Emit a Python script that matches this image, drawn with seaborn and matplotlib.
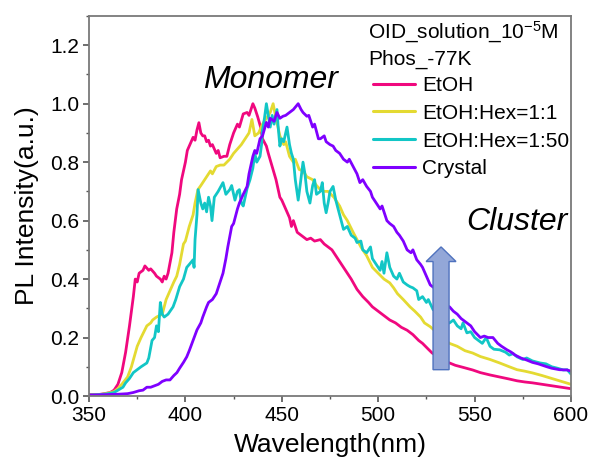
import numpy as np
import pandas as pd
import matplotlib
matplotlib.use("Agg")
import matplotlib.pyplot as plt
from matplotlib.patches import FancyArrow
from matplotlib.ticker import MultipleLocator
import seaborn as sns

# ---------------- data ----------------
etoh_wl = [350, 355, 358, 361, 363, 365, 367, 369, 371, 373, 374, 375, 376, 378, 379, 381, 382, 384, 385, 387, 388, 389, 390, 391, 393, 394, 395.5, 397, 398, 400, 401, 403, 404, 405, 406, 407, 408, 409, 410, 411, 412, 413, 414, 416, 417, 418, 420, 421.5, 423, 425, 427, 428, 430, 432, 433, 435, 436, 437.5, 439, 440, 442, 443, 445, 447, 449, 450, 452, 454, 455, 456, 458, 460, 462, 463, 465, 467, 470, 472, 474, 476, 478, 480, 482, 484, 486, 489, 492, 495, 497, 500, 503, 506, 509, 512, 515, 518, 521, 523, 526, 528, 531, 534, 537, 540, 544, 549, 553, 558, 563, 568, 572, 576, 580, 585, 590, 595, 600]
etoh_y = [0.005, 0.005, 0.008, 0.012, 0.02, 0.04, 0.08, 0.15, 0.24, 0.34, 0.40, 0.39, 0.42, 0.43, 0.445, 0.43, 0.435, 0.42, 0.41, 0.40, 0.39, 0.41, 0.40, 0.42, 0.49, 0.56, 0.64, 0.69, 0.74, 0.80, 0.84, 0.87, 0.885, 0.875, 0.91, 0.935, 0.90, 0.89, 0.89, 0.87, 0.875, 0.855, 0.86, 0.83, 0.84, 0.815, 0.82, 0.82, 0.86, 0.90, 0.93, 0.92, 0.965, 0.97, 0.96, 1.0, 0.985, 0.955, 0.92, 0.88, 0.855, 0.83, 0.785, 0.74, 0.68, 0.67, 0.64, 0.61, 0.58, 0.60, 0.56, 0.55, 0.54, 0.535, 0.54, 0.53, 0.535, 0.52, 0.51, 0.50, 0.48, 0.46, 0.44, 0.42, 0.40, 0.365, 0.34, 0.32, 0.305, 0.29, 0.275, 0.26, 0.25, 0.235, 0.225, 0.21, 0.19, 0.18, 0.16, 0.147, 0.135, 0.12, 0.113, 0.105, 0.098, 0.089, 0.08, 0.072, 0.065, 0.058, 0.052, 0.048, 0.045, 0.04, 0.035, 0.03, 0.025]

hex11_wl = [350, 356, 360, 363, 365, 367, 370, 372, 375, 377, 380, 382, 383, 385, 388, 390, 392, 394, 395.5, 397, 399, 400, 402, 404, 405, 406.5, 408, 410, 411, 413, 414, 416, 418, 420, 421.5, 423, 425, 427, 429, 431, 433, 434.5, 436, 438, 440, 442, 444, 445.5, 447, 449, 451, 452, 454, 456, 457, 459, 461, 463, 466, 468, 470, 472, 474, 477, 480, 482, 484, 487, 489, 491, 494, 497, 500, 503, 506, 508, 510, 513, 516.5, 519, 522, 524, 527, 530, 533, 537, 541, 545, 549, 553, 558, 563, 568, 572, 576, 580, 585, 590, 595, 600]
hex11_y = [0.003, 0.005, 0.01, 0.015, 0.025, 0.04, 0.065, 0.10, 0.17, 0.20, 0.24, 0.25, 0.26, 0.27, 0.28, 0.33, 0.36, 0.39, 0.41, 0.45, 0.52, 0.53, 0.58, 0.62, 0.66, 0.706, 0.72, 0.74, 0.75, 0.77, 0.76, 0.785, 0.79, 0.79, 0.80, 0.81, 0.83, 0.845, 0.86, 0.88, 0.90, 0.946, 0.89, 0.90, 0.93, 0.95, 0.97, 1.0, 0.95, 0.89, 0.86, 0.87, 0.82, 0.80, 0.81, 0.775, 0.77, 0.75, 0.74, 0.72, 0.706, 0.70, 0.70, 0.68, 0.65, 0.62, 0.60, 0.56, 0.535, 0.51, 0.48, 0.44, 0.42, 0.40, 0.387, 0.37, 0.35, 0.33, 0.305, 0.29, 0.27, 0.25, 0.237, 0.22, 0.20, 0.18, 0.17, 0.155, 0.147, 0.135, 0.125, 0.113, 0.10, 0.09, 0.085, 0.079, 0.07, 0.06, 0.05, 0.04]

hex150_wl = [350, 356, 360, 363, 365, 367.6, 369, 371, 373, 375, 377, 380, 381, 382.7, 384, 385, 386, 387, 388, 389, 391, 393.6, 395, 397, 399, 400.7, 402, 404, 404.5, 405, 406, 406.6, 408, 409, 410, 411, 412, 413, 413.8, 415, 417, 419.5, 421, 423, 424, 425.7, 427, 428, 429, 430, 431, 432, 433.5, 435, 436, 437, 438.7, 439.5, 440, 441, 442, 443, 444, 445, 446, 447.5, 448, 449, 450, 451, 452.7, 454, 455, 456, 457, 458.5, 459.5, 461, 462, 463, 464.6, 466, 467, 468, 470, 471, 472, 473, 474, 475, 476.6, 478, 480, 482, 484, 486, 488, 489, 491, 492, 494, 496, 497, 499, 501, 502, 503, 504.5, 506, 508, 509.7, 511, 513, 515, 516.5, 518, 520, 521, 523, 525, 526, 528.5, 530, 532, 534, 535, 537, 539, 541, 543, 544, 546, 548, 550, 552, 554, 556, 558, 560, 563, 566, 568, 570, 572, 575, 577, 580, 584, 587, 590, 593, 596, 598, 600]
hex150_y = [0.003, 0.005, 0.008, 0.012, 0.02, 0.03, 0.045, 0.06, 0.08, 0.09, 0.10, 0.113, 0.13, 0.19, 0.20, 0.24, 0.22, 0.32, 0.28, 0.27, 0.28, 0.305, 0.33, 0.374, 0.40, 0.44, 0.45, 0.466, 0.44, 0.535, 0.62, 0.706, 0.66, 0.64, 0.66, 0.63, 0.68, 0.65, 0.60, 0.68, 0.70, 0.73, 0.69, 0.706, 0.72, 0.67, 0.70, 0.706, 0.66, 0.65, 0.68, 0.71, 0.74, 0.78, 0.83, 0.80, 0.82, 0.86, 0.91, 0.95, 1.0, 0.96, 0.92, 0.96, 0.93, 0.98, 0.93, 0.855, 0.88, 0.87, 0.92, 0.86, 0.83, 0.81, 0.74, 0.67, 0.72, 0.80, 0.76, 0.70, 0.66, 0.72, 0.74, 0.69, 0.70, 0.73, 0.66, 0.627, 0.66, 0.70, 0.717, 0.67, 0.62, 0.57, 0.58, 0.55, 0.54, 0.525, 0.53, 0.50, 0.49, 0.51, 0.47, 0.45, 0.43, 0.46, 0.42, 0.49, 0.44, 0.41, 0.40, 0.42, 0.39, 0.38, 0.374, 0.37, 0.36, 0.33, 0.34, 0.32, 0.33, 0.295, 0.30, 0.27, 0.28, 0.25, 0.25, 0.26, 0.24, 0.23, 0.25, 0.216, 0.22, 0.20, 0.19, 0.18, 0.20, 0.17, 0.16, 0.158, 0.15, 0.14, 0.145, 0.134, 0.125, 0.13, 0.12, 0.113, 0.11, 0.10, 0.095, 0.089, 0.09, 0.075]

crystal_wl = [350, 355, 360, 365, 370, 373, 376, 378, 380, 382, 384, 386, 388, 390, 392, 394, 395.6, 397, 399, 400.7, 402, 404, 406, 408, 409, 411, 412, 414, 416, 417, 418, 419.5, 421, 422, 424, 425, 427, 428, 430, 432, 433, 435, 436, 437, 438.7, 440, 442, 443, 444, 446, 447.5, 449, 450.6, 452, 454, 456, 458.5, 460, 461, 463, 464, 466, 467, 469, 470, 472, 473, 475, 476.6, 478, 480, 482, 484, 485, 487, 489, 490.5, 492, 494, 496, 497, 499, 501, 502, 504.5, 506, 508, 509.7, 511, 513, 515, 517, 518, 520, 522, 523, 525, 527, 529, 530.5, 532, 534, 535, 537, 539, 541, 543, 546, 548, 550, 553, 555, 557, 559.5, 562, 564, 566.8, 569, 571, 574, 577, 580, 583, 587.5, 590, 594, 598, 600]
crystal_y = [0.003, 0.004, 0.005, 0.006, 0.008, 0.012, 0.018, 0.02, 0.03, 0.03, 0.035, 0.04, 0.05, 0.055, 0.055, 0.07, 0.08, 0.095, 0.115, 0.134, 0.155, 0.19, 0.226, 0.25, 0.27, 0.305, 0.32, 0.33, 0.35, 0.37, 0.39, 0.42, 0.47, 0.51, 0.58, 0.59, 0.64, 0.66, 0.69, 0.717, 0.76, 0.82, 0.84, 0.83, 0.88, 0.89, 0.936, 0.92, 0.95, 0.94, 0.97, 0.95, 0.957, 0.96, 0.97, 0.98, 1.0, 0.98, 0.97, 0.957, 0.96, 0.92, 0.93, 0.88, 0.88, 0.89, 0.87, 0.86, 0.855, 0.84, 0.83, 0.81, 0.80, 0.81, 0.785, 0.76, 0.73, 0.74, 0.717, 0.70, 0.68, 0.66, 0.64, 0.65, 0.60, 0.59, 0.58, 0.56, 0.55, 0.53, 0.50, 0.49, 0.50, 0.466, 0.45, 0.44, 0.41, 0.38, 0.37, 0.353, 0.33, 0.32, 0.31, 0.305, 0.29, 0.28, 0.265, 0.25, 0.24, 0.22, 0.20, 0.205, 0.20, 0.20, 0.18, 0.17, 0.158, 0.15, 0.14, 0.13, 0.123, 0.115, 0.11, 0.10, 0.095, 0.09, 0.089, 0.085]

series_names = ["EtOH", "EtOH:Hex=1:1", "EtOH:Hex=1:50", "Crystal"]
series_colors = ["#F0087E", "#E4DA32", "#12C6C6", "#7F00FF"]
x_ticks = [350, 400, 450, 500, 550, 600]
y_ticks = [0.0, 0.2, 0.4, 0.6, 0.8, 1.0, 1.2]
title_lines = ["OID_solution_10$^{-5}$M", "Phos_-77K"]
arrow_x, arrow_y0, arrow_y1 = 532.6, 0.09, 0.51

frames = []
for name, wl, yv in zip(series_names,
                        [etoh_wl, hex11_wl, hex150_wl, crystal_wl],
                        [etoh_y, hex11_y, hex150_y, crystal_y]):
    frames.append(pd.DataFrame({"Wavelength": wl, "Intensity": yv, "Sample": name}))
df = pd.concat(frames, ignore_index=True)

# ---------------- style ----------------
sns.set_style("ticks")
plt.rcParams["font.family"] = ["Liberation Sans", "DejaVu Sans"]
plt.rcParams["mathtext.fontset"] = "custom"
plt.rcParams["mathtext.rm"] = "Liberation Sans"
plt.rcParams["mathtext.it"] = "Liberation Sans:italic"
plt.rcParams["text.color"] = "black"
plt.rcParams["axes.labelcolor"] = "black"
plt.rcParams["xtick.labelcolor"] = "black"
plt.rcParams["ytick.labelcolor"] = "black"

fig = plt.figure(figsize=(5.91, 4.71), dpi=100)
ax = fig.add_axes([89 / 591, 1 - 396 / 471, (571 - 89) / 591, (396 - 16) / 471])

sns.lineplot(data=df, x="Wavelength", y="Intensity", hue="Sample",
             hue_order=series_names, palette=series_colors,
             estimator=None, sort=False, linewidth=2.0, ax=ax)

ax.set_xlim(350, 600)
ax.set_ylim(0, 1.3)
ax.set_xticks(x_ticks)
ax.set_yticks(y_ticks)
ax.set_yticklabels([f"{v:.1f}" for v in y_ticks])
ax.xaxis.set_minor_locator(MultipleLocator(25))
ax.yaxis.set_minor_locator(MultipleLocator(0.1))
ax.tick_params(which="major", direction="out", length=4, width=1.2,
               color="#555555", labelsize=15, pad=3, top=False, right=False)
ax.tick_params(which="minor", direction="out", length=2.5, width=1.0,
               color="#555555", top=False, right=False)
for sp in ax.spines.values():
    sp.set_visible(True)
    sp.set_color("#7a7a7a")
    sp.set_linewidth(1.3)

ax.set_xlabel("Wavelength(nm)", fontsize=19, labelpad=6)
ax.set_ylabel("PL Intensity(a.u.)", fontsize=19, labelpad=8)

# legend (entries) + two header lines
handles, labels = ax.get_legend_handles_labels()
leg = ax.legend(handles, labels, loc="upper right",
                bbox_to_anchor=(1.005, 0.853), frameon=False, fontsize=15,
                borderpad=0.2, handlelength=2.0, handletextpad=0.35,
                labelspacing=0.42, borderaxespad=0.0)
for line in leg.get_lines():
    line.set_linewidth(2.2)

ax.text(494.7, 1.245, title_lines[0], fontsize=15, ha="left", va="center")
ax.text(494.7, 1.152, title_lines[1], fontsize=15, ha="left", va="center")

# annotations
ax.text(444, 1.08, "Monomer", fontsize=23, style="italic",
        ha="center", va="center")
ax.text(598, 0.595, "Cluster", fontsize=23, style="italic",
        ha="right", va="center")

arr = FancyArrow(arrow_x, arrow_y0, 0, arrow_y1 - arrow_y0, width=8.3,
                 head_width=15.5, head_length=0.05, length_includes_head=True,
                 facecolor="#93A7D8", edgecolor="#4F72BE", linewidth=1.0,
                 zorder=5)
ax.add_patch(arr)

fig.savefig("out.png", dpi=100)
